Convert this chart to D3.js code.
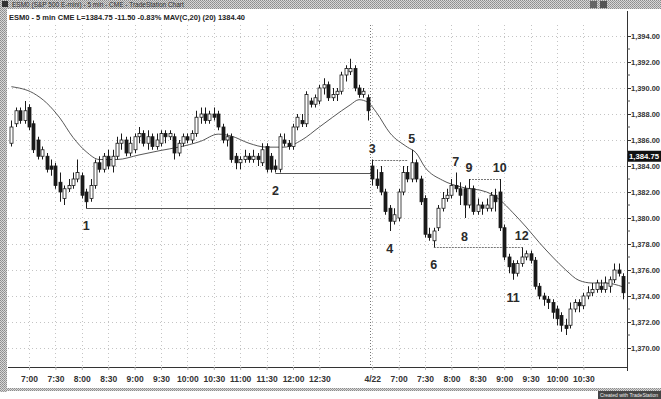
<!DOCTYPE html>
<html>
<head>
<meta charset="utf-8">
<script src="https://cdn.jsdelivr.net/npm/d3@7"></script>
<style>
  html, body { margin: 0; padding: 0; background: #fff; }
  svg { display: block; }
  text { font-family: "Liberation Sans", Arial, sans-serif; }
</style>
</head>
<body>
<svg id="chart" width="661" height="399"></svg>
<script>
// ES 5-minute bars, two sessions (bar index 0..139)
const opens = [
  1385.75,1387.25,1388.25,1387.5,1388.5,1387.25,1386.0,1384.75,1384.75,1384.0,
  1384.0,1382.75,1381.5,1382.25,1382.5,1383.0,1383.25,1382.0,1381.5,1382.5,
  1384.25,1383.75,1384.75,1384.0,1384.75,1385.75,1386.0,1385.0,1385.25,1386.25,
  1386.5,1385.75,1386.25,1385.5,1385.75,1386.5,1386.25,1386.25,1385.0,1385.75,
  1386.25,1386.0,1386.5,1387.75,1388.0,1387.5,1388.0,1388.0,1387.0,1386.0,
  1386.25,1384.75,1384.25,1384.5,1384.75,1384.5,1384.75,1384.25,1385.5,1384.75,
  1384.0,1383.75,1386.0,1385.75,1385.5,1387.0,1387.5,1387.25,1389.0,1388.75,
  1389.0,1390.0,1390.25,1389.25,1389.5,1389.75,1391.0,1391.25,1391.5,1390.0,
  1389.5,1389.25,
  1384.0,1383.0,1383.5,1382.0,1380.75,1379.75,1380.0,1382.0,1383.5,1383.0,
  1384.25,1383.0,1381.5,1378.75,1378.25,1379.25,1380.75,1381.5,1381.75,1382.5,
  1382.25,1382.25,1381.0,1382.25,1380.5,1381.0,1380.75,1380.75,1381.75,1382.0,
  1379.25,1377.0,1376.5,1375.75,1376.5,1377.0,1377.25,1376.75,1374.75,1374.0,
  1373.75,1373.5,1373.0,1372.5,1371.75,1371.75,1373.0,1373.5,1373.25,1374.0,
  1374.25,1374.5,1374.75,1374.5,1374.75,1375.25,1376.0,1375.5
];
const highs = [
  1387.5,1388.5,1388.5,1389.0,1388.75,1387.5,1386.25,1385.5,1385.0,1384.5,
  1384.25,1383.5,1382.5,1383.0,1383.5,1384.5,1383.5,1382.25,1383.0,1384.5,
  1384.75,1385.0,1385.25,1385.25,1386.25,1386.5,1386.25,1386.25,1386.5,1387.0,
  1386.75,1386.75,1386.5,1386.5,1386.75,1386.75,1386.75,1386.5,1386.0,1386.5,
  1386.5,1386.75,1388.25,1388.5,1388.5,1388.25,1388.5,1388.25,1387.25,1386.5,
  1386.5,1385.0,1384.75,1385.25,1385.0,1385.25,1385.0,1385.75,1385.75,1385.0,
  1384.5,1386.5,1386.5,1386.0,1387.25,1388.0,1388.0,1389.75,1389.25,1389.5,
  1390.25,1390.75,1390.5,1390.0,1390.0,1391.25,1391.75,1392.25,1391.75,1390.25,
  1390.0,1389.5,
  1384.5,1383.75,1384.0,1382.25,1381.0,1380.75,1382.25,1384.0,1384.0,1385.25,
  1384.5,1383.25,1381.75,1379.25,1379.25,1381.0,1382.0,1382.25,1383.0,1383.5,
  1382.75,1382.5,1383.0,1382.5,1381.5,1381.25,1381.5,1382.0,1382.25,1383.0,
  1379.5,1377.25,1376.75,1376.75,1377.75,1377.5,1377.5,1377.0,1375.0,1374.25,
  1374.0,1373.75,1373.25,1372.75,1372.25,1373.5,1373.75,1373.75,1374.25,1374.75,
  1375.0,1375.25,1375.25,1375.5,1375.5,1376.5,1376.5,1375.75
];
const lows = [
  1385.5,1387.0,1387.25,1387.25,1386.75,1385.0,1384.5,1384.5,1383.5,1383.25,
  1382.25,1381.25,1381.0,1382.0,1382.25,1382.75,1381.5,1380.75,1381.25,1382.25,
  1383.5,1383.5,1383.75,1383.5,1384.5,1385.25,1384.75,1384.75,1385.0,1385.75,
  1385.5,1385.25,1385.25,1385.25,1385.5,1385.75,1386.0,1384.5,1384.75,1385.5,
  1385.75,1385.75,1386.25,1387.25,1387.25,1387.25,1387.5,1386.75,1385.75,1385.5,
  1384.25,1383.75,1383.75,1384.25,1384.25,1384.25,1384.0,1384.0,1383.5,1383.5,
  1383.5,1383.5,1385.5,1385.25,1385.25,1386.75,1387.0,1387.0,1388.5,1388.5,
  1388.75,1389.5,1389.0,1389.0,1389.0,1389.5,1390.5,1391.0,1389.75,1389.25,
  1389.25,1387.5,
  1382.5,1382.25,1381.75,1380.25,1379.0,1379.5,1379.75,1381.75,1382.75,1382.75,
  1382.75,1381.0,1378.5,1378.25,1377.75,1379.0,1380.5,1381.25,1381.5,1382.0,
  1381.0,1380.0,1380.75,1380.25,1380.25,1380.25,1380.5,1380.5,1380.5,1379.0,
  1376.75,1375.75,1375.25,1375.5,1376.25,1376.75,1376.5,1374.5,1373.75,1373.25,
  1373.0,1372.25,1371.75,1371.25,1371.0,1371.5,1372.75,1372.75,1373.0,1373.75,
  1374.0,1374.25,1374.25,1374.25,1374.25,1375.0,1375.5,1373.75
];
const closes = [
  1387.0,1388.25,1387.5,1388.25,1387.0,1385.25,1384.75,1385.25,1383.75,1383.75,
  1382.5,1382.0,1382.25,1382.5,1383.0,1383.5,1381.75,1381.25,1382.5,1384.25,
  1383.75,1384.75,1384.0,1384.75,1385.75,1386.0,1385.0,1385.75,1386.25,1386.5,
  1385.75,1386.25,1385.5,1386.0,1386.5,1386.25,1386.5,1385.0,1385.75,1386.25,
  1386.0,1386.5,1387.75,1388.0,1387.5,1388.0,1387.75,1387.0,1386.0,1386.25,
  1384.5,1384.25,1384.5,1384.75,1384.5,1384.75,1384.5,1385.25,1383.75,1383.75,
  1383.75,1386.25,1385.75,1385.5,1387.0,1387.75,1387.25,1389.5,1388.75,1389.25,
  1390.0,1390.25,1389.25,1389.5,1389.75,1391.0,1391.5,1391.5,1390.0,1389.5,
  1389.75,1388.25,
  1383.0,1382.5,1382.0,1380.5,1379.75,1380.25,1382.0,1383.5,1383.0,1384.25,
  1383.0,1381.25,1378.75,1378.5,1379.0,1380.75,1381.5,1381.75,1382.5,1382.25,
  1381.75,1381.0,1382.25,1380.5,1381.0,1380.75,1381.0,1381.75,1381.25,1379.25,
  1377.0,1376.25,1375.75,1376.5,1377.0,1377.25,1376.75,1374.75,1374.0,1373.75,
  1373.5,1372.75,1372.25,1371.75,1371.5,1373.0,1373.5,1373.25,1374.0,1374.25,
  1374.5,1375.0,1374.5,1375.0,1375.25,1376.0,1375.75,1374.25
];

// 20-bar moving average, sampled along the drawn line
const maIndex = [0,5,8,11,14,17,20,24,29,34,38,43,47,50,54,58,62,66,70,73,77,79,81,
                 83,86,90,92,94,98,102,108,111,114,117,120,123,126,129,132,135,139];
const maValue = [1390.1,1389.6,1388.85,1387.7,1386.2,1385.1,1384.5,1384.5,1384.85,1385.2,
                 1385.45,1385.9,1386.45,1386.3,1385.75,1385.45,1385.45,1386.0,1387.0,1387.75,
                 1388.7,1389.1,1388.9,1388.1,1386.55,1385.45,1385.0,1383.9,1382.9,1382.4,
                 1382.0,1381.4,1380.4,1379.3,1378.1,1377.0,1376.0,1375.2,1375.0,1375.0,1374.7];

// Time axis labels and the bar they sit on
const timeLabels = ["7:00","7:30","8:00","8:30","9:00","9:30","10:00","10:30","11:00","11:30","12:00","12:30",
                    "4/22","7:00","7:30","8:00","8:30","9:00","9:30","10:00","10:30"];
const timeIndex  = [4,10,16,22,28,34,40,46,52,58,64,70,82,88,94,100,106,112,118,124,130];

// Price axis
const priceTicks = [1394,1392,1390,1388,1386,1384,1382,1380,1378,1376,1374,1372,1370];
const minorTicks = [1393,1391,1389,1387,1385,1383,1381,1379,1377,1375,1373,1371];
const lastPrice = 1384.75;
const sessionBreak = 81.5;

// Swing references: [label, bar, price, side]
const swingLabels = [
  ["1",17,1380.75,-1],["2",60,1383.5,-1],["3",82,1384.5,1],["4",86,1379.0,-1],
  ["5",91,1385.25,1],["6",96,1377.75,-1],["7",101,1383.5,1],["8",103,1377.75,0],
  ["9",104,1383.0,1],["10",111,1383.0,1],["11",114,1375.25,-1],["12",116,1377.75,1]
];
// Reference levels: [fromBar, toBar, price, dashed]
const levels = [
  [17,82,1380.75,false],[60,82,1383.5,false],[82,90,1384.5,true],
  [96,116,1377.75,true],[104,111,1383.0,true]
];

const svg = d3.select("#chart");
const W = 661, H = 399;
const plotLeft = 8, axisX = 627, plotTop = 11, axisY = 367;

const x = d3.scaleLinear().domain([0, 139]).range([11.4, 623]);
const y = d3.scaleLinear().domain([1370, 1394]).range([348, 36]);

// window frame: checkered strips
const defs = svg.append("defs");
const pat = defs.append("pattern").attr("id","chk").attr("width",2).attr("height",2)
  .attr("patternUnits","userSpaceOnUse");
pat.append("rect").attr("width",2).attr("height",2).attr("fill","#d6d6d6");
pat.append("rect").attr("width",1).attr("height",1).attr("fill","#8c8c8c");
pat.append("rect").attr("x",1).attr("y",1).attr("width",1).attr("height",1).attr("fill","#9a9a9a");

svg.append("rect").attr("width",W).attr("height",H).attr("fill","#fff");
svg.append("rect").attr("x",0).attr("y",0).attr("width",W).attr("height",9).attr("fill","url(#chk)");
svg.append("rect").attr("x",0).attr("y",0).attr("width",7).attr("height",392).attr("fill","url(#chk)");
svg.append("rect").attr("x",0).attr("y",388).attr("width",W).attr("height",3).attr("fill","url(#chk)");
svg.append("rect").attr("x",2).attr("y",1).attr("width",6).attr("height",6).attr("fill","#333");
svg.append("text").attr("x",12).attr("y",7).attr("font-size",6.5).attr("fill","#333")
  .text("ESM0 (S&P 500 E-mini) - 5 min - CME - TradeStation Chart");
svg.append("rect").attr("x",590).attr("y",1).attr("width",7).attr("height",7).attr("fill","#666");
svg.append("rect").attr("x",600).attr("y",1).attr("width",7).attr("height",7).attr("fill","#555");
svg.append("rect").attr("x",598).attr("y",391).attr("width",63).attr("height",8).attr("fill","#444");
svg.append("text").attr("x",600).attr("y",396.5).attr("font-size",5)
  .attr("textLength",58).attr("lengthAdjust","spacingAndGlyphs")
  .attr("fill","#eee").text("Created with TradeStation");

// header line
svg.append("text").attr("x",9).attr("y",20).attr("font-size",7.5).attr("fill","#222")
  .attr("font-weight","bold")
  .text("ESM0 - 5 min   CME   L=1384.75   -11.50   -0.83%   MAV(C,20) (20)   1384.40");

// grid
const grid = svg.append("g").attr("stroke","#c4c4c4").attr("stroke-width",1).attr("stroke-dasharray","1,3");
grid.selectAll("line.h").data(priceTicks).join("line")
  .attr("x1",plotLeft).attr("x2",axisX).attr("y1",d=>Math.round(y(d))+0.5).attr("y2",d=>Math.round(y(d))+0.5);
grid.selectAll("line.v").data(timeIndex).join("line")
  .attr("x1",d=>Math.round(x(d))+0.5).attr("x2",d=>Math.round(x(d))+0.5).attr("y1",plotTop+14).attr("y2",axisY);

// session separator
svg.append("line").attr("x1",Math.round(x(sessionBreak))+0.5).attr("x2",Math.round(x(sessionBreak))+0.5)
  .attr("y1",plotTop+14).attr("y2",axisY).attr("stroke","#777").attr("stroke-dasharray","1,2");

// reference levels
svg.append("g").selectAll("line").data(levels).join("line")
  .attr("x1",d=>x(d[0])).attr("x2",d=>x(d[1]))
  .attr("y1",d=>Math.round(y(d[2]))+0.5).attr("y2",d=>Math.round(y(d[2]))+0.5)
  .attr("stroke",d=>d[3]?"#777":"#555").attr("stroke-width",1)
  .attr("stroke-dasharray",d=>d[3]?"2,1":null);

// moving average
const maPts = maIndex.map((d,i)=>[d, maValue[i]]);
svg.append("path").datum(maPts)
  .attr("d", d3.line().x(d=>x(d[0])).y(d=>y(d[1])).curve(d3.curveMonotoneX))
  .attr("fill","none").attr("stroke","#444").attr("stroke-width",0.9);

// candles
const bars = d3.range(opens.length).map(i=>({i, o:opens[i], h:highs[i], l:lows[i], c:closes[i]}));
const cg = svg.append("g");
cg.selectAll("line").data(bars).join("line")
  .attr("x1",d=>Math.round(x(d.i))+0.5).attr("x2",d=>Math.round(x(d.i))+0.5)
  .attr("y1",d=>y(d.h)).attr("y2",d=>y(d.l)).attr("stroke","#1a1a1a").attr("stroke-width",1);
cg.selectAll("rect").data(bars).join("rect")
  .attr("x",d=>Math.round(x(d.i))-1)
  .attr("y",d=>y(Math.max(d.o,d.c)))
  .attr("width",3)
  .attr("height",d=>Math.max(1, Math.abs(y(d.o)-y(d.c))))
  .attr("fill",d=>d.c>=d.o?"#fff":"#1a1a1a")
  .attr("stroke","#1a1a1a").attr("stroke-width",0.8);

// swing numbers
svg.append("g").selectAll("text").data(swingLabels).join("text")
  .attr("x",d=>x(d[1])).attr("y",(d)=>{
     if (d[0]==="8") return y(d[2]) - 6;
     return d[3] > 0 ? y(d[2]) - 7 : y(d[2]) + 22;
  })
  .attr("text-anchor","middle").attr("font-size",12.5).attr("font-weight","bold")
  .attr("fill","#2a2a2a").text(d=>d[0]);

// price axis (right)
svg.append("line").attr("x1",axisX+0.5).attr("x2",axisX+0.5).attr("y1",plotTop).attr("y2",axisY+4)
  .attr("stroke","#333");
const yAxis = d3.axisRight(y).tickValues(priceTicks).tickSize(4).tickPadding(0)
  .tickFormat(d3.format(",.2f"));
const ya = svg.append("g").attr("transform",`translate(${axisX},0)`).call(yAxis);
ya.select(".domain").remove();
ya.selectAll("text").attr("font-size",8).attr("font-weight","bold").attr("fill","#333")
  .attr("textLength",29).attr("lengthAdjust","spacingAndGlyphs")
  .attr("font-family","Liberation Sans, Arial, sans-serif");
ya.selectAll("line").attr("stroke","#333");
svg.append("g").selectAll("line").data(minorTicks).join("line")
  .attr("x1",axisX).attr("x2",axisX+3).attr("y1",d=>y(d)).attr("y2",d=>y(d)).attr("stroke","#555");

// last price marker
svg.append("rect").attr("x",axisX+1).attr("y",y(lastPrice)-5.5).attr("width",W-axisX-1).attr("height",11)
  .attr("fill","#111");
svg.append("text").attr("x",axisX+2).attr("y",y(lastPrice)+3).attr("font-size",8).attr("font-weight","bold")
  .attr("textLength",30).attr("lengthAdjust","spacingAndGlyphs")
  .attr("fill","#fff").text(d3.format(",.2f")(lastPrice));

// time axis (bottom)
svg.append("line").attr("x1",plotLeft).attr("x2",axisX).attr("y1",axisY+0.5).attr("y2",axisY+0.5).attr("stroke","#333");
const xAxis = d3.axisBottom(x).tickValues(timeIndex).tickSize(3).tickPadding(6)
  .tickFormat((d,i)=>timeLabels[i]);
const xa = svg.append("g").attr("transform",`translate(0,${axisY})`).call(xAxis);
xa.select(".domain").remove();
xa.selectAll("line").attr("stroke","#aaa");
xa.selectAll("text").attr("font-size",8.5).attr("font-weight","bold").attr("fill","#333")
  .attr("font-family","Liberation Sans, Arial, sans-serif");
</script>
</body>
</html>
